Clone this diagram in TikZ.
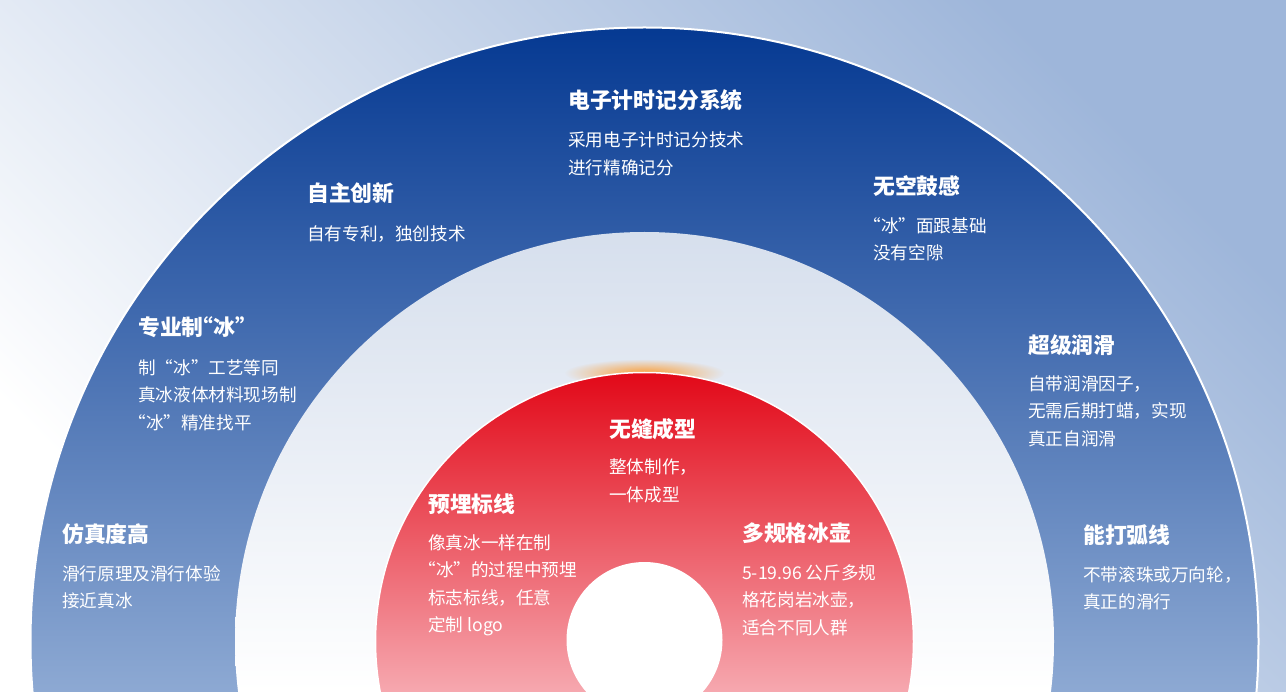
\documentclass[tikz,border=0pt]{standalone}
\usepackage{fontspec}
\setmainfont{Noto Sans CJK SC}
\usetikzlibrary{fadings}
\definecolor{bgblue}{RGB}{158,182,218}
\definecolor{blueTop}{RGB}{5,57,146}
\definecolor{blueBot}{RGB}{141,169,211}
\definecolor{ringTop}{RGB}{214,223,237}
\definecolor{redTop}{RGB}{226,8,24}
\definecolor{redBot}{RGB}{246,168,175}
\definecolor{glowc}{RGB}{250,160,60}
\tikzfading[name=glowfade, inner color=transparent!0, outer color=transparent!100]
\newcommand{\oq}{\makebox[1em][r]{“}}
\newcommand{\cq}{\makebox[1em][l]{”}}
\newcommand{\soq}{\makebox[0.45em][r]{“}}
\newcommand{\scq}{\makebox[0.45em][l]{”}}
\begin{document}
\begin{tikzpicture}[x=1pt,y=-1pt,
  title/.style={anchor=west, inner sep=0pt, text=white, font=\fontsize{21.8}{26}\selectfont\bfseries},
  body/.style={anchor=north west, inner sep=0pt, align=left, text=white, font=\fontsize{17.6}{27.5}\selectfont}]
\useasboundingbox (0,0) rectangle (1286,692);
\clip (0,0) rectangle (1286,692);
\shade[top color=bgblue, bottom color=white, shading angle=-45] (0,0) rectangle (1286,692);
\coordinate (c) at (644.5,641.5);
% outer blue ring
\begin{scope}
  \clip (c) circle (614);
  \shade[top color=blueTop, bottom color=blueBot] (0,27) rectangle (1286,692);
\end{scope}
\draw[white, line width=2pt] (c) circle (614);
% white ring
\begin{scope}
  \clip (c) circle (409.5);
  \shade[top color=ringTop, bottom color=white] (0,232) rectangle (1286,692);
\end{scope}
% glow
\fill[glowc, path fading=glowfade] (644.5,373) ellipse (80 and 14);
% red disc
\begin{scope}
  \clip (c) circle (269);
  \shade[top color=redTop, bottom color=redBot] (0,372) rectangle (1286,692);
\end{scope}
\draw[white, line width=1.5pt] (c) circle (269);
\fill[white] (644.5,640) circle (78);
% texts
\node[title] (t1) at (568,100) {电子计时记分系统};
\node[body] (b1) at (568,132) {采用电子计时记分技术\\进行精确记分};
\node[title] (t2) at (307,193) {自主创新};
\node[body] (b2) at (307,225) {自有专利，独创技术};
\node[title] (t3) at (873,186) {无空鼓感};
\node[body] (b3) at (873,217) {\soq 冰\cq 面跟基础\\没有空隙};
\node[title] (t4) at (138,327) {专业制\soq 冰\scq};
\node[body] (b4) at (138,359) {制\oq 冰\cq 工艺等同\\真冰液体材料现场制\\\soq 冰\cq 精准找平};
\node[title] (t5) at (1028,345) {超级润滑};
\node[body] (b5) at (1028,375) {自带润滑因子，\\无需后期打蜡，实现\\真正自润滑};
\node[title] (t6) at (62,534) {仿真度高};
\node[body] (b6) at (62,565) {滑行原理及滑行体验\\接近真冰};
\node[title] (t7) at (1083,535) {能打弧线};
\node[body] (b7) at (1083,566) {不带滚珠或万向轮，\\真正的滑行};
\node[title] (t8) at (609,429) {无缝成型};
\node[body] (b8) at (609,459) {整体制作，\\一体成型};
\node[title] (t9) at (428,504) {预埋标线};
\node[body] (b9) at (428,534) {像真冰一样在制\\\soq 冰\cq 的过程中预埋\\标志标线，任意\\定制 logo};
\node[title] (t10) at (742,533) {多规格冰壶};
\node[body] (b10) at (742,564) {5-19.96 公斤多规\\格花岗岩冰壶，\\适合不同人群};
\end{tikzpicture}
\end{document}
